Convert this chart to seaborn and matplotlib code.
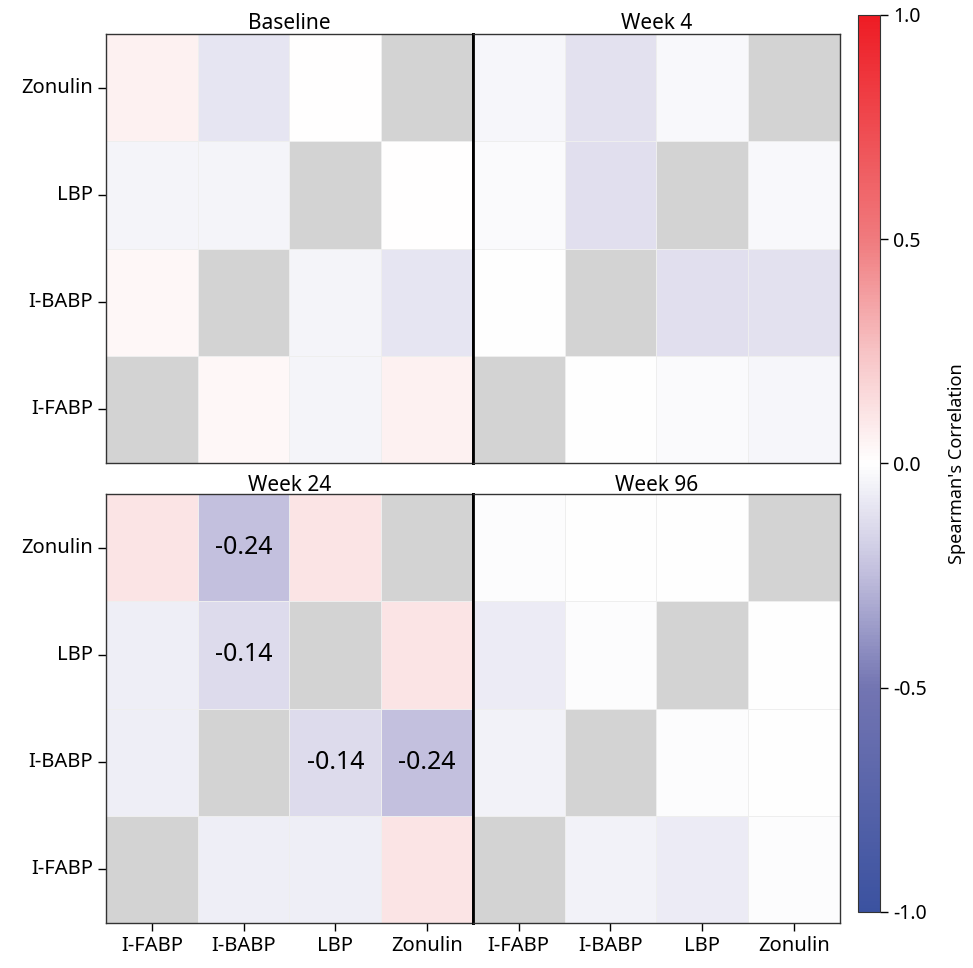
import numpy as np
import pandas as pd
import seaborn as sns
import matplotlib.pyplot as plt
from matplotlib.colors import LinearSegmentedColormap

# markers (matrix rows / columns, same order)
markers = ["I-FABP", "I-BABP", "LBP", "Zonulin"]
visits = ["Baseline", "Week 4", "Week 24", "Week 96"]

# Spearman correlations (diagonal = NaN -> grey)
# rows/cols: I-FABP, I-BABP, LBP, Zonulin
baseline = [[np.nan, 0.035, -0.04, 0.055],
            [0.035, np.nan, -0.04, -0.095],
            [-0.04, -0.04, np.nan, 0.0],
            [0.055, -0.095, 0.0, np.nan]]
week4 = [[np.nan, -0.005, -0.02, -0.035],
         [-0.005, np.nan, -0.12, -0.11],
         [-0.02, -0.12, np.nan, -0.03],
         [-0.035, -0.11, -0.03, np.nan]]
week24 = [[np.nan, -0.07, -0.07, 0.11],
          [-0.07, np.nan, -0.14, -0.24],
          [-0.07, -0.14, np.nan, 0.11],
          [0.11, -0.24, 0.11, np.nan]]
week96 = [[np.nan, -0.05, -0.075, -0.015],
          [-0.05, np.nan, -0.01, -0.003],
          [-0.075, -0.01, np.nan, -0.003],
          [-0.015, -0.003, -0.003, np.nan]]

# only significant correlations get a label
sig_labels = {"Week 24": [("Zonulin", "I-BABP"), ("LBP", "I-BABP"),
                          ("I-BABP", "LBP"), ("I-BABP", "Zonulin")]}

sns.set_style("white")
plt.rcParams['font.family'] = ['Noto Sans', 'DejaVu Sans']
plt.rcParams['text.color'] = 'black'
plt.rcParams['xtick.color'] = 'black'
plt.rcParams['ytick.color'] = 'black'
plt.rcParams['axes.labelcolor'] = 'black'

cmap = LinearSegmentedColormap.from_list(
    "bwr_custom",
    [(0.0, "#3b52a0"), (0.25, "#7375b2"), (0.38, "#c3c0de"), (0.5, "#ffffff"),
     (0.625, "#f7c3c5"), (0.75, "#f07b7e"), (1.0, "#ee1c24")])

fig = plt.figure(figsize=(9.73, 9.68), dpi=100)
positions = [[0.109, 0.5217, 0.377, 0.443],
             [0.486, 0.5217, 0.377, 0.443],
             [0.109, 0.0465, 0.377, 0.443],
             [0.486, 0.0465, 0.377, 0.443]]
data = {"Baseline": baseline, "Week 4": week4, "Week 24": week24, "Week 96": week96}

axes = []
for i, visit in enumerate(visits):
    ax = fig.add_axes(positions[i])
    df = pd.DataFrame(data[visit], index=markers, columns=markers)
    annot = pd.DataFrame("", index=markers, columns=markers)
    for r, c in sig_labels.get(visit, []):
        annot.loc[r, c] = f"{df.loc[r, c]:.2f}"
    ax.set_facecolor("#d3d3d3")
    sns.heatmap(df, ax=ax, cmap=cmap, vmin=-1, vmax=1, cbar=False,
                annot=annot, fmt="", annot_kws={"size": 18, "color": "black"},
                linewidths=0.4, linecolor="#eeeeee")
    ax.invert_yaxis()
    ax.set_title(visit, fontsize=15, pad=2)
    ax.set_xlabel("")
    ax.set_ylabel("")
    for s in ax.spines.values():
        s.set_visible(True)
        s.set_color("#333333")
        s.set_linewidth(1)
    if i % 2 == 0:
        ax.spines["right"].set_color("black")
        ax.spines["right"].set_linewidth(2)
        ax.tick_params(axis="y", left=True, length=6, width=1, labelsize=14.5)
        ax.set_yticklabels(ax.get_yticklabels(), rotation=0)
    else:
        ax.spines["left"].set_color("black")
        ax.spines["left"].set_linewidth(2)
        ax.set_yticks([])
    if i >= 2:
        ax.tick_params(axis="x", bottom=True, length=6, width=1, labelsize=14.5)
        ax.set_xticklabels(ax.get_xticklabels(), rotation=0)
    else:
        ax.set_xticks([])
    axes.append(ax)

cax = fig.add_axes([0.882, 0.0579, 0.0226, 0.9267])
cb = fig.colorbar(axes[0].collections[0], cax=cax)
cb.set_ticks([-1, -0.5, 0, 0.5, 1])
cb.set_ticklabels(["-1.0", "-0.5", "0.0", "0.5", "1.0"])
cb.ax.tick_params(labelsize=14, length=6, width=1)
cb.outline.set_edgecolor("#333333")
cb.set_label("Spearman's Correlation", fontsize=13, labelpad=15)

fig.savefig("out.png", dpi=100)
